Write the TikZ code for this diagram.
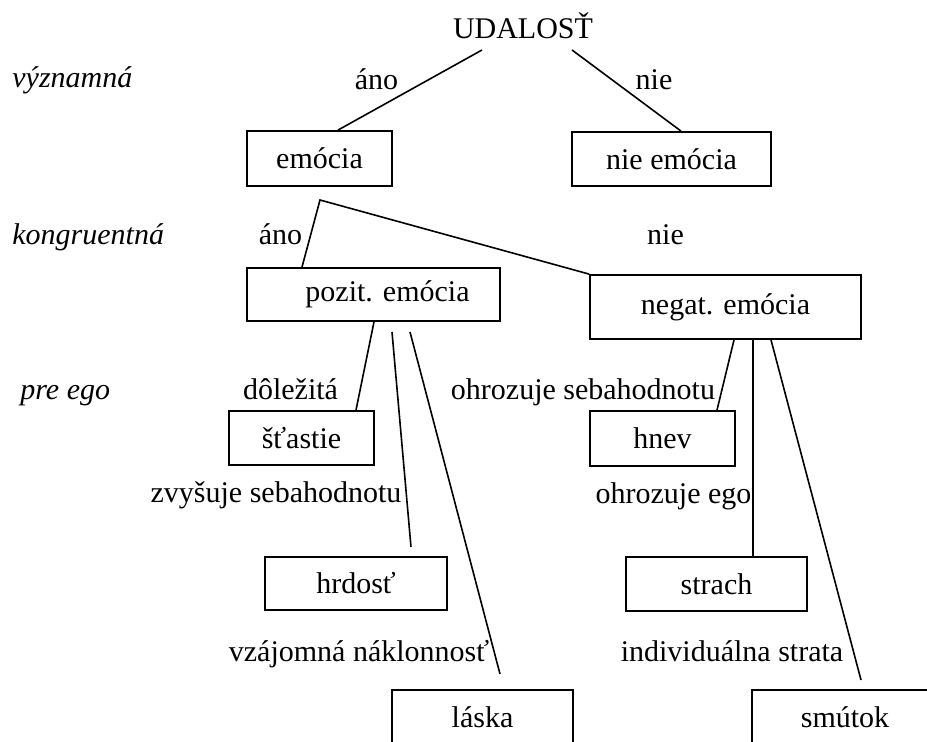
\documentclass[tikz,border=0pt]{standalone}
\usepackage{fontspec}
\setmainfont{Liberation Serif}
\usepackage{tikz}
\tikzset{
  krabica/.style={draw, line width=0.9pt, inner sep=0pt},
  spoj/.style={line width=0.8pt},
  popis/.style={anchor=base, inner sep=0pt},
  kriterium/.style={anchor=base west, inner sep=0pt, font=\fontsize{15pt}{18pt}\selectfont\itshape},
}

\begin{document}
\begin{tikzpicture}[x=0.5pt, y=-0.5pt, font=\fontsize{15pt}{18pt}\selectfont]

\def\u{0.5pt}
\useasboundingbox (0,0) rectangle (927,742);

% Kritériá vľavo
\node[kriterium] (vyzn) at (12,88) {významná};
\node[kriterium] (kongr) at (12,245) {kongruentná};
\node[kriterium] (ego) at (20,400) {pre ego};

% Udalosť
\node[popis] (udalost) at (523,39) {UDALOSŤ};

% Krabice (x1/y1/x2/y2)
\foreach \nm/\xa/\ya/\xb/\yb/\txt in {
    emocia/247/131/392/186/{emócia},
    nieemo/572/132/771/186/{nie emócia},
    pozit/247/268/500/321/{\hspace*{14pt}pozit. emócia},
    negat/590/275/861/339/{negat. emócia},
    stastie/229/411/374/465/{šťastie},
    hnev/590/411/735/466/{hnev},
    hrdost/265/557/447/610/{hrdosť},
    strach/626/557/807/611/{strach},
    laska/392/690/573/745/{láska},
    smutok/752/690/1000/745/{smútok\hspace*{31pt}}} {
    \node[krabica, minimum width={(\xb-\xa)*\u}, minimum height={(\yb-\ya)*\u}]
        (\nm) at ({(\xa+\xb)/2},{(\ya+\yb)/2}) {\txt};
}

% Popisy vetiev
\node[popis] (ano1) at (376.5,90) {áno};
\node[popis] (nie1) at (654,90) {nie};
\node[popis] (ano2) at (280.5,245) {áno};
\node[popis] (nie2) at (665.5,245) {nie};
\node[popis] (dolez) at (290.5,400) {dôležitá};
\node[popis] (ohrseb) at (583,400) {ohrozuje sebahodnotu};
\node[popis] (zvys) at (276,503) {zvyšuje sebahodnotu};
\node[popis] (ohrego) at (673.5,504) {ohrozuje ego};
\node[popis] (vzaj) at (359,662) {vzájomná náklonnosť};
\node[popis] (indiv) at (732,662) {individuálna strata};

% Voľné konce čiar
\coordinate (ud-l) at (482,50);
\coordinate (ud-r) at (572,50);
\coordinate (kon) at (320,200);
\coordinate (hrd-z) at (392,332);
\coordinate (hrd-k) at (411,547);
\coordinate (las-z) at (410,332);
\coordinate (las-k) at (500,674);
\coordinate (smu-k) at (861,680);

% Čiary
\draw[spoj] (ud-l) -- (emocia.north -| 338,0);
\draw[spoj] (ud-r) -- (nieemo.north -| 681,0);
\draw[spoj] (pozit.north -| 302,0) -- (kon) -- (negat.north west);
\draw[spoj] (pozit.south -| 374,0) -- (stastie.north -| 356,0);
\draw[spoj] (hrd-z) -- (hrd-k);
\draw[spoj] (las-z) -- (las-k);
\draw[spoj] (negat.south -| 734,0) -- (hnev.north -| 717,0);
\draw[spoj] (negat.south -| 753,0) -- (strach.north -| 753,0);
\draw[spoj] (negat.south -| 771,0) -- (smu-k);

\end{tikzpicture}
\end{document}
